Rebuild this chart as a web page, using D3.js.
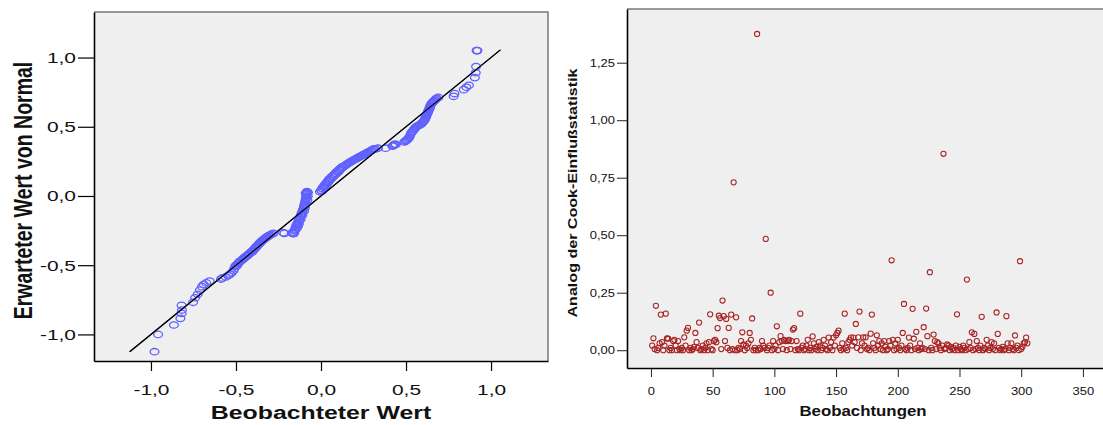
<!DOCTYPE html>
<html>
<head>
<meta charset="utf-8">
<script src="https://cdn.jsdelivr.net/npm/d3@7"></script>
<style>
  body { margin: 0; background: #fff; }
  text { font-family: "Liberation Sans", Arial, sans-serif; fill: #111; }
</style>
</head>
<body>
<div id="chart"></div>
<script>
// Q-Q Diagramm: beobachteter Wert (x) gegen erwarteten Normalwert (y)
var qqObserved = [
  -0.979, -0.958, -0.865, -0.827, -0.82, -0.818, -0.82, -0.752, -0.74, -0.725,
  -0.712, -0.70, -0.69, -0.675, -0.655, -0.588, -0.58,
  -0.56, -0.545, -0.535, -0.525, -0.515, -0.51, -0.505, -0.5, -0.49, -0.48,
  -0.47, -0.46, -0.45, -0.44, -0.43, -0.42, -0.41, -0.40, -0.39, -0.38,
  -0.37, -0.36, -0.35, -0.34, -0.33, -0.32, -0.31, -0.3, -0.29, -0.28,
  -0.495, -0.485, -0.475, -0.455, -0.445, -0.435, -0.425, -0.405, -0.395, -0.385,
  -0.375, -0.365, -0.355, -0.345, -0.335, -0.325, -0.315, -0.305,
  -0.222, -0.215,
  -0.165, -0.16, -0.155, -0.152, -0.148, -0.145, -0.14, -0.135, -0.13, -0.125,
  -0.122, -0.118, -0.114, -0.11, -0.106, -0.102, -0.1, -0.097, -0.094, -0.092,
  -0.09, -0.088, -0.086, -0.085, -0.084, -0.083,
  -0.17, -0.158, -0.15, -0.14, -0.135, -0.13, -0.12, -0.11, -0.1, -0.095,
  -0.09, -0.08, -0.078, -0.077, -0.09,
  -0.006, 0.0, 0.008, 0.015, 0.022, 0.03, 0.038, 0.046, 0.055, 0.065,
  0.075, 0.085, 0.095, 0.105, 0.115, 0.125, 0.14, 0.155, 0.17, 0.185,
  0.2, 0.215, 0.23, 0.245, 0.26, 0.275, 0.29, 0.305, 0.32, 0.335,
  0.005, 0.012, 0.02, 0.028, 0.035, 0.042, 0.05, 0.06, 0.07, 0.08,
  0.09, 0.1, 0.11, 0.12, 0.133, 0.148, 0.162, 0.178, 0.192, 0.208,
  0.222, 0.238, 0.252, 0.268, 0.282, 0.298, 0.31,
  0.38, 0.42, 0.43, 0.44, 0.49, 0.5, 0.51, 0.52, 0.525, 0.53,
  0.54, 0.55, 0.56, 0.575, 0.59, 0.6, 0.61, 0.615, 0.62, 0.625,
  0.63, 0.635, 0.64, 0.645, 0.65, 0.66, 0.67, 0.68, 0.69,
  0.425, 0.435, 0.495, 0.505, 0.515, 0.535, 0.545, 0.555, 0.568, 0.582,
  0.595, 0.605, 0.612, 0.618, 0.622, 0.628, 0.632, 0.638, 0.642, 0.655,
  0.665, 0.675,
  0.78, 0.785, 0.84, 0.855, 0.87, 0.905, 0.91, 0.912, 0.915, 0.92
];
var qqExpected = [
  -1.125, -1.0, -0.932, -0.884, -0.848, -0.824, -0.79, -0.768, -0.735, -0.71,
  -0.68, -0.655, -0.64, -0.628, -0.615, -0.6, -0.592,
  -0.585, -0.575, -0.565, -0.555, -0.54, -0.525, -0.51, -0.5, -0.49, -0.478,
  -0.468, -0.458, -0.448, -0.437, -0.427, -0.415, -0.403, -0.392, -0.38, -0.366,
  -0.352, -0.34, -0.328, -0.318, -0.308, -0.298, -0.29, -0.282, -0.276, -0.27,
  -0.505, -0.485, -0.47, -0.45, -0.44, -0.43, -0.42, -0.405, -0.39, -0.375,
  -0.362, -0.348, -0.335, -0.322, -0.312, -0.302, -0.294, -0.286,
  -0.265, -0.27,
  -0.272, -0.262, -0.25, -0.238, -0.225, -0.212, -0.2, -0.188, -0.175, -0.162,
  -0.15, -0.138, -0.125, -0.112, -0.1, -0.088, -0.075, -0.062, -0.05, -0.038,
  -0.025, -0.012, 0.0, 0.012, 0.024, 0.032,
  -0.265, -0.27, -0.245, -0.23, -0.215, -0.2, -0.17, -0.14, -0.11, -0.085,
  -0.06, -0.03, 0.0, 0.025, 0.02,
  0.03, 0.042, 0.055, 0.068, 0.08, 0.092, 0.105, 0.118, 0.13, 0.142,
  0.152, 0.165, 0.178, 0.19, 0.2, 0.21, 0.22, 0.232, 0.243, 0.255,
  0.265, 0.275, 0.285, 0.295, 0.305, 0.315, 0.325, 0.335, 0.34, 0.345,
  0.035, 0.05, 0.062, 0.075, 0.088, 0.1, 0.112, 0.125, 0.138, 0.15,
  0.16, 0.172, 0.185, 0.198, 0.212, 0.225, 0.238, 0.25, 0.26, 0.27,
  0.28, 0.29, 0.3, 0.31, 0.32, 0.33, 0.34,
  0.345, 0.36, 0.37, 0.372, 0.39, 0.4, 0.41, 0.425, 0.44, 0.455,
  0.47, 0.485, 0.5, 0.51, 0.52, 0.535, 0.55, 0.565, 0.58, 0.595,
  0.61, 0.625, 0.64, 0.655, 0.668, 0.68, 0.692, 0.705, 0.712,
  0.365, 0.375, 0.395, 0.405, 0.418, 0.462, 0.478, 0.492, 0.505, 0.515,
  0.528, 0.542, 0.558, 0.572, 0.588, 0.602, 0.618, 0.632, 0.648, 0.675,
  0.688, 0.7,
  0.72, 0.74, 0.768, 0.785, 0.8, 0.855, 0.89, 0.935, 1.05, 1.05
];
var qqRefLine = [-1.125, 1.055];
var qqTicks = [-1.0, -0.5, 0.0, 0.5, 1.0];

// Cook-Distanz je Beobachtung (1..305)
var cook = [
  0.02, 0.052, 0.005, 0.193, 0.00, 0.01, 0.03, 0.155, 0.035, 0.00,
  0.02, 0.159, 0.051, 0.05, 0.00, 0.01, 0.00, 0.04, 0.045, 0.02,
  0.00, 0.04, 0.005, 0.00, 0.01, 0.00, 0.056, 0.02, 0.085, 0.097,
  0.00, 0.01, 0.00, 0.005, 0.015, 0.075, 0.035, 0.01, 0.12, 0.00,
  0.005, 0.02, 0.00, 0.01, 0.03, 0.00, 0.035, 0.156, 0.005, 0.00,
  0.04, 0.045, 0.035, 0.096, 0.15, 0.14, 0.005, 0.216, 0.148, 0.04,
  0.136, 0.01, 0.097, 0.00, 0.155, 0.005, 0.73, 0.00, 0.143, 0.00,
  0.01, 0.005, 0.04, 0.078, 0.025, 0.00, 0.02, 0.01, 0.03, 0.075,
  0.045, 0.138, 0.00, 0.01, 0.00, 1.375, 0.00, 0.01, 0.005, 0.04,
  0.02, 0.01, 0.484, 0.00, 0.01, 0.02, 0.25, 0.00, 0.04, 0.005,
  0.02, 0.104, 0.00, 0.035, 0.061, 0.04, 0.005, 0.045, 0.04, 0.00,
  0.04, 0.045, 0.005, 0.04, 0.09, 0.096, 0.00, 0.04, 0.005, 0.00,
  0.159, 0.01, 0.02, 0.00, 0.005, 0.02, 0.045, 0.00, 0.01, 0.00,
  0.06, 0.03, 0.005, 0.015, 0.00, 0.035, 0.02, 0.00, 0.01, 0.045,
  0.02, 0.005, 0.00, 0.055, 0.01, 0.035, 0.00, 0.055, 0.02, 0.065,
  0.075, 0.085, 0.01, 0.00, 0.03, 0.005, 0.159, 0.01, 0.00, 0.035,
  0.045, 0.055, 0.02, 0.055, 0.035, 0.114, 0.01, 0.056, 0.168, 0.00,
  0.03, 0.056, 0.02, 0.056, 0.005, 0.01, 0.00, 0.072, 0.155, 0.03,
  0.01, 0.00, 0.065, 0.02, 0.04, 0.005, 0.03, 0.00, 0.04, 0.015,
  0.00, 0.005, 0.04, 0.02, 0.391, 0.045, 0.00, 0.03, 0.005, 0.045,
  0.01, 0.00, 0.02, 0.075, 0.201, 0.005, 0.00, 0.01, 0.055, 0.02,
  0.00, 0.18, 0.05, 0.005, 0.08, 0.01, 0.00, 0.03, 0.005, 0.01,
  0.1, 0.005, 0.181, 0.061, 0.00, 0.339, 0.01, 0.00, 0.068, 0.04,
  0.005, 0.035, 0.03, 0.01, 0.00, 0.02, 0.854, 0.005, 0.01, 0.025,
  0.02, 0.00, 0.015, 0.005, 0.01, 0.00, 0.02, 0.156, 0.00, 0.015,
  0.005, 0.00, 0.02, 0.01, 0.00, 0.307, 0.005, 0.035, 0.01, 0.078,
  0.00, 0.071, 0.005, 0.04, 0.01, 0.00, 0.02, 0.145, 0.00, 0.01,
  0.005, 0.045, 0.02, 0.00, 0.01, 0.035, 0.005, 0.03, 0.00, 0.164,
  0.071, 0.01, 0.00, 0.005, 0.015, 0.00, 0.005, 0.148, 0.03, 0.00,
  0.01, 0.03, 0.005, 0.00, 0.064, 0.01, 0.02, 0.00, 0.387, 0.005,
  0.015, 0.03, 0.035, 0.055, 0.03
];
var cookYTicks = [0, 0.25, 0.5, 0.75, 1.0, 1.25];
var cookXTicks = [0, 50, 100, 150, 200, 250, 300, 350];

var svg = d3.select("#chart")
  .append("svg")
  .attr("width", 1103)
  .attr("height", 425);

// stretch text wider, like the original export
function widen(sel, k) {
  sel.each(function() {
    var w = this.getComputedTextLength();
    d3.select(this).attr("textLength", w * k).attr("lengthAdjust", "spacingAndGlyphs");
  });
}
function komma(digits) {
  return function(d) { return d.toFixed(digits).replace(".", ","); };
}

// ---------- linkes Diagramm ----------
var L = {left: 94, right: 548, top: 12, bottom: 361};

var xL = d3.scaleLinear().domain([-1.335, 1.335]).range([L.left, L.right]);
var yL = d3.scaleLinear().domain([-1.192, 1.329]).range([L.bottom, L.top]);

svg.append("rect")
  .attr("x", L.left).attr("y", L.top)
  .attr("width", L.right - L.left).attr("height", L.bottom - L.top)
  .attr("fill", "#efefef");

svg.append("path")
  .attr("d", "M" + L.left + "," + L.top + "H" + L.right + "V" + L.bottom)
  .attr("fill", "none").attr("stroke", "#7a7a7a").attr("stroke-width", 1.5);

var gxL = svg.append("g")
  .attr("transform", "translate(0," + L.bottom + ")")
  .call(d3.axisBottom(xL).tickValues(qqTicks).tickFormat(komma(1)).tickSize(10).tickSizeOuter(0).tickPadding(13));
var gyL = svg.append("g")
  .attr("transform", "translate(" + L.left + ",0)")
  .call(d3.axisLeft(yL).tickValues(qqTicks).tickFormat(komma(1)).tickSize(16).tickSizeOuter(0).tickPadding(2));

[gxL, gyL].forEach(function(g) {
  g.select(".domain").attr("stroke", "#000").attr("stroke-width", 1.6);
  g.selectAll(".tick line").attr("stroke", "#000").attr("stroke-width", 1.2);
  g.selectAll(".tick text")
    .style("font-family", "Liberation Sans, Arial, sans-serif")
    .style("font-size", "15.5px").attr("fill", "#111");
  widen(g.selectAll(".tick text"), 1.35);
});

svg.append("line")
  .attr("x1", xL(qqRefLine[0])).attr("y1", yL(qqRefLine[0]))
  .attr("x2", xL(qqRefLine[1])).attr("y2", yL(qqRefLine[1]))
  .attr("stroke", "#000").attr("stroke-width", 1.1);

svg.append("g")
  .selectAll("ellipse")
  .data(qqObserved)
  .enter()
  .append("ellipse")
  .attr("cx", function(d) { return xL(d); })
  .attr("cy", function(d, i) { return yL(qqExpected[i]); })
  .attr("rx", 4.4)
  .attr("ry", 3.2)
  .attr("fill", "none")
  .attr("stroke", "#6060ff")
  .attr("stroke-width", 1.3);

// Bezugslinie ueber den Punkten, wie im Original
svg.append("line")
  .attr("x1", xL(qqRefLine[0])).attr("y1", yL(qqRefLine[0]))
  .attr("x2", xL(qqRefLine[1])).attr("y2", yL(qqRefLine[1]))
  .attr("stroke", "#000").attr("stroke-width", 1.1);

var tx = svg.append("text")
  .attr("x", (L.left + L.right) / 2).attr("y", 419)
  .attr("text-anchor", "middle")
  .style("font-size", "18px").style("font-weight", "bold")
  .text("Beobachteter Wert");
widen(tx, 1.38);

svg.append("g")
  .attr("transform", "translate(32," + ((L.top + L.bottom) / 2 + 4) + ") scale(1.3,1) rotate(-90)")
  .append("text")
  .attr("text-anchor", "middle")
  .style("font-size", "19.5px").style("font-weight", "bold")
  .text("Erwarteter Wert von Normal");

// ---------- rechtes Diagramm ----------
var R = {left: 627, right: 1106, top: 9, bottom: 368};

var xR = d3.scaleLinear().domain([-19.4, 368.7]).range([R.left, R.right]);
var yR = d3.scaleLinear().domain([-0.0773, 1.4835]).range([R.bottom, R.top]);

svg.append("rect")
  .attr("x", R.left).attr("y", R.top)
  .attr("width", R.right - R.left).attr("height", R.bottom - R.top)
  .attr("fill", "#efefef");

svg.append("path")
  .attr("d", "M" + R.left + "," + R.top + "H" + R.right + "V" + R.bottom)
  .attr("fill", "none").attr("stroke", "#7a7a7a").attr("stroke-width", 1.5);

var gxR = svg.append("g")
  .attr("transform", "translate(0," + R.bottom + ")")
  .call(d3.axisBottom(xR).tickValues(cookXTicks).tickSize(9).tickSizeOuter(0).tickPadding(10));
var gyR = svg.append("g")
  .attr("transform", "translate(" + R.left + ",0)")
  .call(d3.axisLeft(yR).tickValues(cookYTicks).tickFormat(komma(2)).tickSize(10).tickSizeOuter(0).tickPadding(2));

[gxR, gyR].forEach(function(g) {
  g.select(".domain").attr("stroke", "#000").attr("stroke-width", 1.6);
  g.selectAll(".tick line").attr("stroke", "#222").attr("stroke-width", 1);
  g.selectAll(".tick text")
    .style("font-family", "Liberation Sans, Arial, sans-serif")
    .style("font-size", "11px").attr("fill", "#222");
  widen(g.selectAll(".tick text"), 1.18);
});

svg.append("g")
  .selectAll("circle")
  .data(cook)
  .enter()
  .append("circle")
  .attr("cx", function(d, i) { return xR(i + 1); })
  .attr("cy", function(d) { return yR(d); })
  .attr("r", 2.6)
  .attr("fill", "none")
  .attr("stroke", "#a82222")
  .attr("stroke-width", 1.05);

var txR = svg.append("text")
  .attr("x", 863).attr("y", 416)
  .attr("text-anchor", "middle")
  .style("font-size", "14.5px").style("font-weight", "bold")
  .text("Beobachtungen");
widen(txR, 1.16);

var tyR = svg.append("text")
  .attr("transform", "translate(577,193) rotate(-90)")
  .attr("text-anchor", "middle")
  .style("font-size", "13.5px").style("font-weight", "bold")
  .text("Analog der Cook-Einflußstatistik");
widen(tyR, 1.19);
</script>
</body>
</html>
